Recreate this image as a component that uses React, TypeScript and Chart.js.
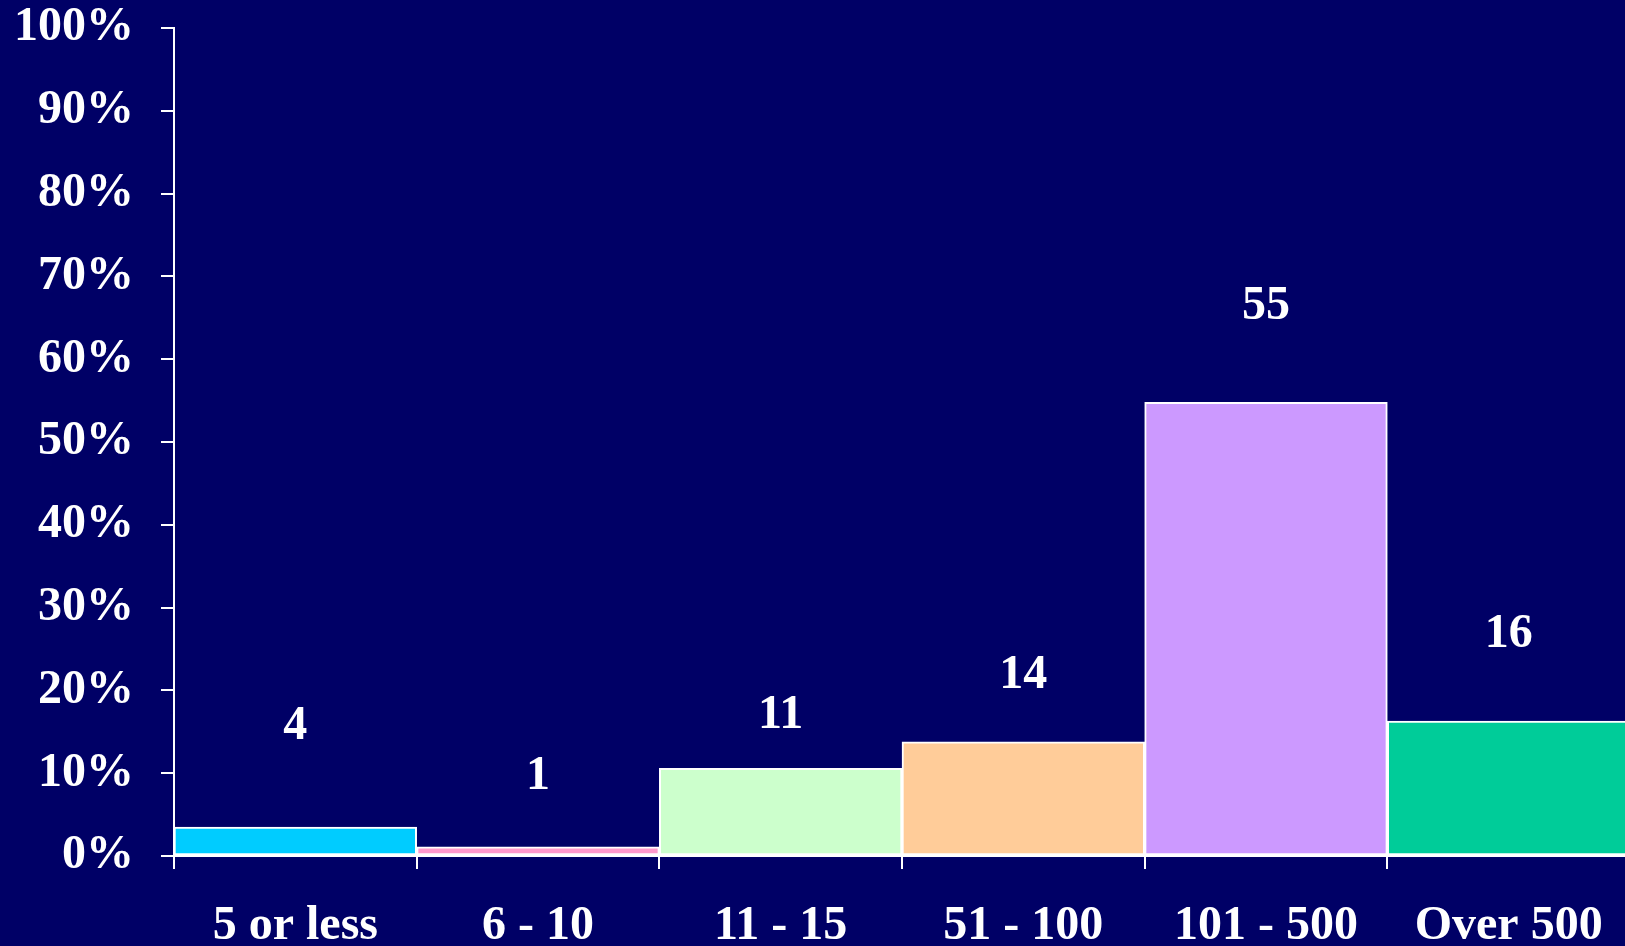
import React, { useEffect, useRef } from "react";
import { Chart, registerables } from "chart.js";

Chart.register(...registerables);

const categories = ["5 or less", "6 - 10", "11 - 15", "51 - 100", "101 - 500", "Over 500"];
const shareValues = [3.5, 1.1, 10.6, 13.8, 54.8, 16.3];
const countLabels = ["4", "1", "11", "14", "55", "16"];
const labelLevels = [16.1, 10.0, 17.4, 22.2, 66.8, 27.2];
const barColors = ["#00CCFF", "#FF99CC", "#CCFFCC", "#FFCC99", "#CC99FF", "#00CC99"];
const yTicks = [0, 10, 20, 30, 40, 50, 60, 70, 80, 90, 100];

const FONT = "'Liberation Serif', 'Times New Roman', serif";

const labelPlugin = {
  id: "countLabels",
  afterDatasetsDraw(chart: any) {
    const ctx = chart.ctx;
    const meta = chart.getDatasetMeta(0);
    const y = chart.scales.y;
    ctx.save();
    ctx.fillStyle = "#FFFFFF";
    ctx.font = `bold 48px ${FONT}`;
    ctx.textAlign = "center";
    ctx.textBaseline = "alphabetic";
    meta.data.forEach((bar: any, i: number) => {
      ctx.fillText(countLabels[i], bar.x, y.getPixelForValue(labelLevels[i]) + 16);
    });
    ctx.restore();
  },
};

export default function App() {
  const ref = useRef<HTMLCanvasElement>(null);
  useEffect(() => {
    document.body.style.margin = "0";
    document.body.style.background = "#000066";
    document.body.style.overflow = "hidden";
    const chart = new Chart(ref.current!, {
      type: "bar",
      data: {
        labels: categories,
        datasets: [
          {
            data: shareValues,
            backgroundColor: barColors,
            borderColor: "#FFFFFF",
            borderWidth: 2,
            borderSkipped: false,
            categoryPercentage: 1,
            barPercentage: 1,
          },
        ],
      },
      options: {
        animation: false,
        responsive: false,
        layout: { padding: { top: 0, right: 0, left: 0, bottom: 0 } },
        plugins: { legend: { display: false }, tooltip: { enabled: false } },
        scales: {
          x: {
            offset: true,
            grid: {
              offset: true,
              drawOnChartArea: false,
              drawTicks: true,
              tickLength: 13,
              color: "#FFFFFF",
              lineWidth: 2,
            },
            border: { color: "#FFFFFF", width: 2 },
            ticks: {
              color: "#FFFFFF",
              font: { family: FONT, size: 48, weight: "bold" },
              padding: 29,
              maxRotation: 0,
              autoSkip: false,
            },
            afterFit(scale: any) {
              scale.height = 90;
              scale.paddingLeft = 0;
              scale.paddingRight = 0;
            },
          },
          y: {
            min: 0,
            max: 100,
            afterBuildTicks(scale: any) {
              scale.ticks = yTicks.map((v) => ({ value: v }));
            },
            grid: {
              drawOnChartArea: false,
              drawTicks: true,
              tickLength: 13,
              color: "#FFFFFF",
              lineWidth: 2,
            },
            border: { color: "#FFFFFF", width: 2 },
            ticks: {
              color: "#FFFFFF",
              font: { family: FONT, size: 48, weight: "bold" },
              padding: 27,
              callback: (v: any) => `${v}%`,
            },
            afterFit(scale: any) {
              scale.width = 174;
              scale.paddingTop = 28;
              scale.paddingBottom = 0;
            },
          },
        },
      },
      plugins: [labelPlugin],
    });
    return () => chart.destroy();
  }, []);
  return (
    <div style={{ width: 1625, height: 946, background: "#000066", overflow: "hidden" }}>
      <canvas ref={ref} width={1630} height={946} style={{ display: "block" }} />
    </div>
  );
}
